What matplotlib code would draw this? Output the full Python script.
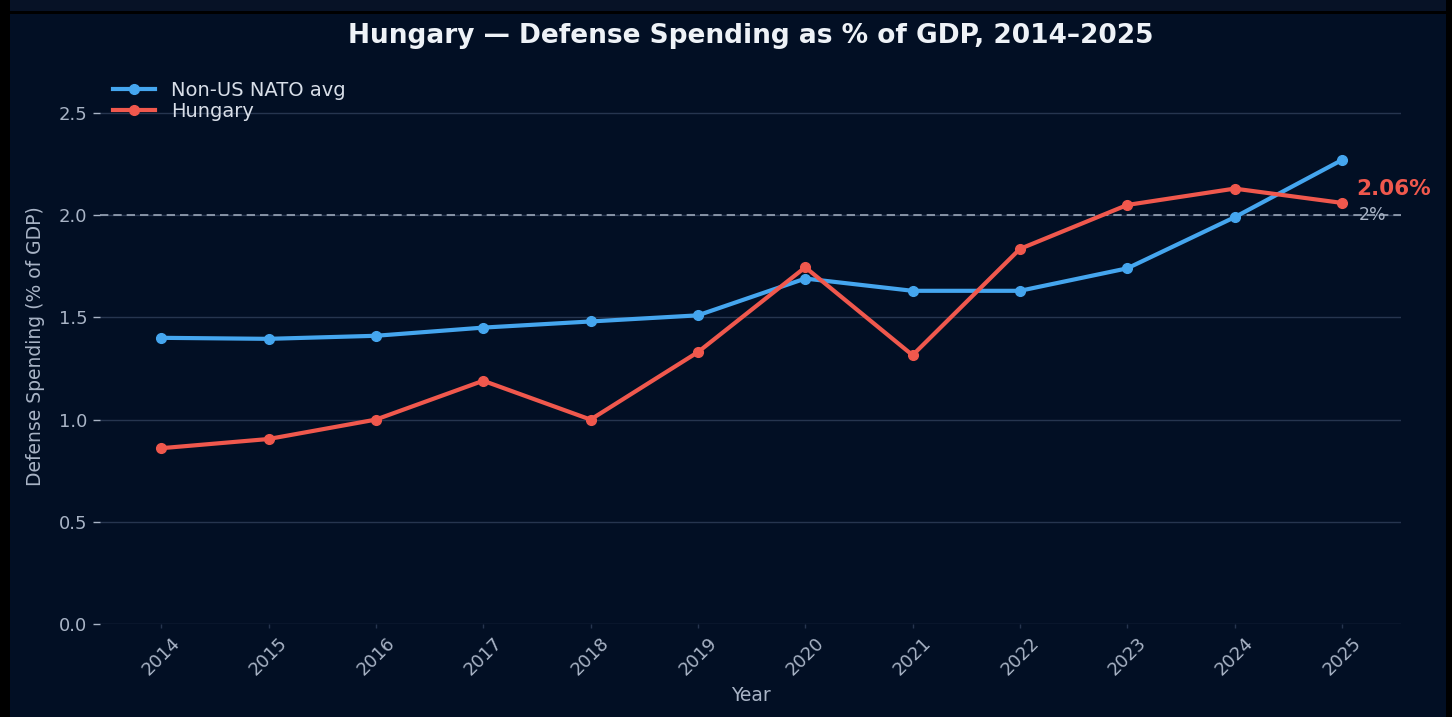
import matplotlib
matplotlib.use("Agg")
import matplotlib.pyplot as plt
from matplotlib.patches import Rectangle

years = [2014, 2015, 2016, 2017, 2018, 2019, 2020, 2021, 2022, 2023, 2024, 2025]
nato_avg = [1.40, 1.395, 1.41, 1.45, 1.48, 1.51, 1.69, 1.63, 1.63, 1.74, 1.99, 2.27]
hungary = [0.86, 0.905, 1.00, 1.19, 1.00, 1.33, 1.745, 1.315, 1.835, 2.05, 2.13, 2.06]
target = 2.0

BG = "#020f24"
TXT = "#a9b4c6"
BLUE = "#45a6ef"
RED = "#f0584d"

fig = plt.figure(figsize=(14.52, 7.17), dpi=100, facecolor=BG)
ax = fig.add_axes([100 / 1452, 1 - 624 / 717, (1401 - 100) / 1452, (624 - 68) / 717])
ax.set_facecolor(BG)

ax.plot(years, nato_avg, color=BLUE, lw=3.0, marker="o", ms=7, label="Non-US NATO avg", zorder=3)
ax.plot(years, hungary, color=RED, lw=3.0, marker="o", ms=7, label="Hungary", zorder=3)
ax.axhline(target, color="#9aa6b8", lw=1.2, ls=(0, (5, 3)), zorder=2)

ax.set_xlim(2013.43, 2025.55)
ax.set_ylim(0, 2.72)
ax.set_yticks([0.0, 0.5, 1.0, 1.5, 2.0, 2.5])
ax.set_xticks(years)
ax.set_xticklabels([str(y) for y in years], rotation=45)
ax.grid(axis="y", color="#26354f", lw=1.0, zorder=0)
for s in ax.spines.values():
    s.set_visible(False)
ax.tick_params(axis="both", colors=TXT, labelsize=13, length=4, width=1)
ax.tick_params(axis="x", color="#26354f", length=3, pad=4)
ax.tick_params(axis="y", color=TXT, length=5, pad=4)

ax.set_xlabel("Year", color=TXT, fontsize=13.5, labelpad=5)
ax.set_ylabel("Defense Spending (% of GDP)", color=TXT, fontsize=13.5, labelpad=10)

ax.text(years[-1] + 0.13, hungary[-1] + 0.07, f"{hungary[-1]:.2f}%", color=RED,
        fontsize=15.5, fontweight="bold", va="center", ha="left")
ax.text(years[-1] + 0.16, target, "2%", color=TXT, fontsize=12.5, va="center", ha="left")

leg = ax.legend(loc="upper left", frameon=False, fontsize=14, bbox_to_anchor=(0.0, 1.0),
                handlelength=2.2, borderaxespad=0.3, labelspacing=0.12, borderpad=0.35)
for t in leg.get_texts():
    t.set_color("#d8dee8")

fig.text(751 / 1452, 1 - 36 / 717, "Hungary — Defense Spending as % of GDP, 2014–2025",
         color="#eef2f7", fontsize=19, fontweight="bold", ha="center", va="center")

# screenshot frame
fig.patches.append(Rectangle((0, 1 - 12 / 717), 1, 12 / 717, transform=fig.transFigure,
                             facecolor="#071226", edgecolor="none", zorder=-1))
fig.patches.append(Rectangle((0, 0), 10 / 1452, 1, transform=fig.transFigure,
                             facecolor="#000000", edgecolor="none", zorder=-1))
fig.patches.append(Rectangle((1446 / 1452, 0), 6 / 1452, 1, transform=fig.transFigure,
                             facecolor="#000000", edgecolor="none", zorder=-1))
fig.patches.append(Rectangle((0, 1 - 14 / 717), 1, 3 / 717, transform=fig.transFigure,
                             facecolor="#000000", edgecolor="none", zorder=-1))

fig.savefig("out.png", dpi=100, facecolor=BG)
